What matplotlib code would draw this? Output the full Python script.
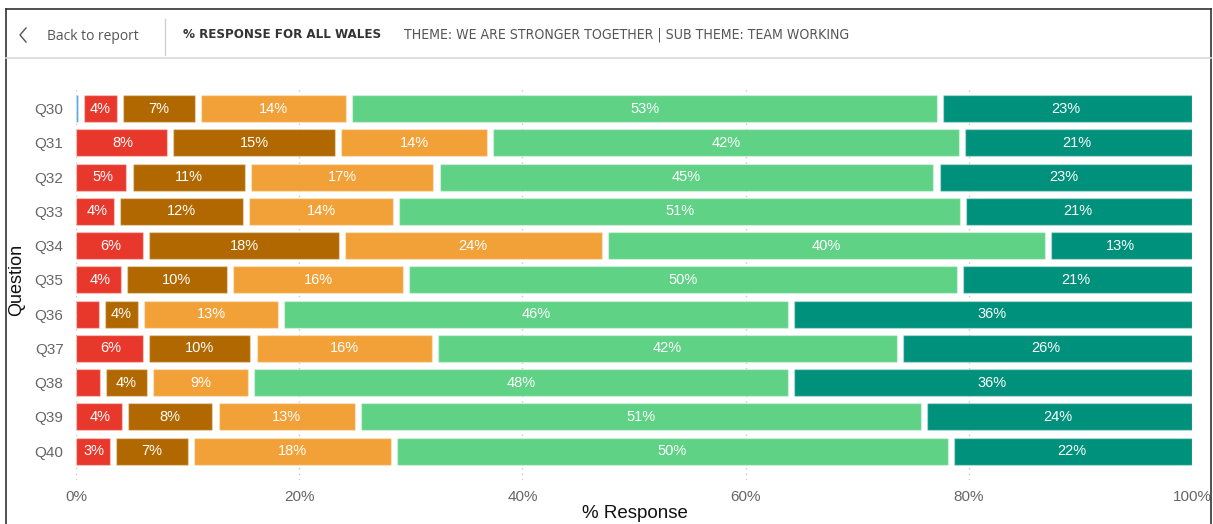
import matplotlib
matplotlib.use("Agg")
import matplotlib.pyplot as plt
from matplotlib.lines import Line2D
import numpy as np

questions = ["Q30", "Q31", "Q32", "Q33", "Q34", "Q35", "Q36", "Q37", "Q38", "Q39", "Q40"]

# response categories, left to right
blue = [0.45, 0, 0, 0, 0, 0, 0, 0, 0, 0, 0]
red = [3.5, 8.4, 4.8, 3.7, 6.3, 4.3, 2.3, 6.3, 2.4, 4.4, 3.3]
brown = [7.0, 15.1, 10.6, 11.5, 17.5, 9.5, 3.5, 9.6, 4.2, 8.1, 7.0]
orange = [13.5, 13.6, 16.9, 13.5, 23.6, 15.8, 12.6, 16.3, 9.1, 12.8, 18.2]
green = [53.0, 42.3, 44.8, 50.8, 39.7, 49.6, 45.7, 41.6, 48.4, 50.7, 49.9]
teal = [22.55, 20.6, 22.9, 20.5, 12.9, 20.8, 35.9, 26.2, 35.9, 24.0, 21.6]

series = [blue, red, brown, orange, green, teal]
colors = ["#4C9ED6", "#E8372B", "#B26800", "#F2A138", "#5FD286", "#00917D"]

GAP = 0.55  # white gap between segments, in % units
LABEL_MIN = 2.8

fig = plt.figure(figsize=(12.13, 5.24), dpi=100)
ax = fig.add_axes([76 / 1213, 1 - 480 / 524, 1116 / 1213, 392 / 524])

y = np.arange(len(questions))
left = np.zeros(len(questions))
for vals, col in zip(series, colors):
    vals = np.array(vals, dtype=float)
    for i, v in enumerate(vals):
        if v <= 0:
            continue
        start = left[i] + (GAP / 2 if left[i] > 0 else 0)
        end = left[i] + v - (GAP / 2 if left[i] + v < 99.9 else 0)
        w = max(end - start, 0.2)
        ax.barh(y[i], w, left=start, height=0.79, color=col,
                edgecolor=(1, 1, 1, 0.35), linewidth=1.0, zorder=2)
        if v >= LABEL_MIN:
            ax.text(left[i] + v / 2, y[i], f"{int(v + 0.5)}%", ha="center", va="center",
                    color="white", fontsize=10.5, family="Liberation Sans", zorder=3)
    left += vals

ax.set_xlim(0, 100)
ax.set_ylim(10.845, -0.6)
ax.set_yticks(y)
ax.set_yticklabels(questions)
ax.set_xticks([0, 20, 40, 60, 80, 100])
ax.set_xticklabels([f"{t}%" for t in [0, 20, 40, 60, 80, 100]])
ax.tick_params(length=0, labelsize=11, labelcolor="#666666")
ax.tick_params(axis="y", pad=9)
ax.tick_params(axis="x", pad=7)
for lab in ax.get_xticklabels() + ax.get_yticklabels():
    lab.set_family("Liberation Sans")
for s in ax.spines.values():
    s.set_visible(False)
ax.grid(axis="x", color="#c8c8c8", linestyle=(0, (1, 3)), linewidth=1, zorder=0)
ax.set_axisbelow(True)

fig.text(17 / 1213, 1 - 280 / 524, "Question", rotation=90, ha="center", va="center",
         fontsize=13, color="#111111", family="Liberation Sans")
fig.text(635 / 1213, 1 - 513 / 524, "% Response", ha="center", va="center",
         fontsize=13.5, color="#111111", family="Liberation Sans")

# header / frame
fig.add_artist(Line2D([6 / 1213, 6 / 1213], [0, 1 - 9 / 524], transform=fig.transFigure, color="#333333", lw=1.2))
fig.add_artist(Line2D([1211 / 1213, 1211 / 1213], [0, 1 - 9 / 524], transform=fig.transFigure, color="#333333", lw=1.2))
fig.add_artist(Line2D([6 / 1213, 1211 / 1213], [1 - 9 / 524, 1 - 9 / 524], transform=fig.transFigure, color="#333333", lw=1.2))
fig.add_artist(Line2D([6 / 1213, 1211 / 1213], [1 - 58 / 524, 1 - 58 / 524], transform=fig.transFigure, color="#d9d9d9", lw=1.2))
fig.add_artist(Line2D([165 / 1213, 165 / 1213], [1 - 19 / 524, 1 - 55 / 524], transform=fig.transFigure, color="#cfcfcf", lw=1))
fig.add_artist(Line2D([26 / 1213, 20 / 1213, 26 / 1213], [1 - 28 / 524, 1 - 35 / 524, 1 - 42 / 524],
                      transform=fig.transFigure, color="#555555", lw=1))

fig.text(47 / 1213, 1 - 36 / 524, "Back to report", ha="left", va="center",
         fontsize=10, color="#555555", family="Open Sans")
fig.text(183 / 1213, 1 - 35 / 524, "% RESPONSE FOR ALL WALES", ha="left", va="center",
         fontsize=9.5, color="#333333", fontweight="bold", family="DejaVu Sans", fontstretch="condensed")
fig.text(404 / 1213, 1 - 35 / 524, "THEME: WE ARE STRONGER TOGETHER | SUB THEME: TEAM WORKING", ha="left", va="center",
         fontsize=10.1, color="#555555", family="DejaVu Sans", fontstretch="condensed")

fig.savefig("out.png", dpi=100)
